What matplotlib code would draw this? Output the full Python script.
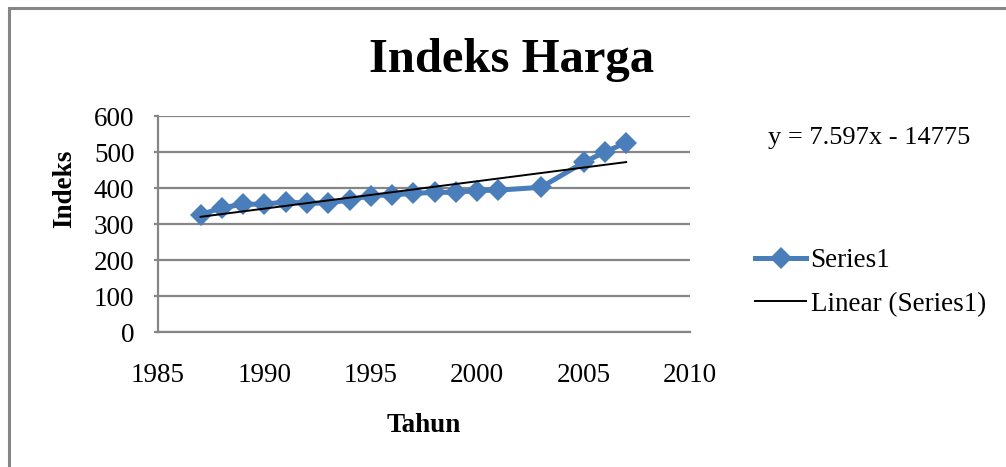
import matplotlib
matplotlib.use("Agg")
import matplotlib.pyplot as plt
import numpy as np
from matplotlib.patches import Rectangle

plt.rcParams['font.family'] = ['Liberation Serif', 'DejaVu Serif']

tahun = [1987, 1988, 1989, 1990, 1991, 1992, 1993, 1994, 1995, 1996,
         1997, 1998, 1999, 2000, 2001, 2003, 2005, 2006, 2007]
indeks = [326, 345, 355, 355, 361, 358, 358, 367, 379, 381,
          385, 388, 388, 393, 394, 402, 471, 500, 526]

x_ticks = [1985, 1990, 1995, 2000, 2005, 2010]
y_ticks = [0, 100, 200, 300, 400, 500, 600]

blue = '#4A7EBB'
grey = '#868686'

fig = plt.figure(figsize=(10.06, 4.67), dpi=100)
ax = fig.add_axes([158 / 1006, 1 - 332 / 467, 532 / 1006, 216 / 467])

# outer chart frame
fig.patches.append(Rectangle((9 / 1006, -0.1), 1.2, 1 - 8 / 467 + 0.1,
                             transform=fig.transFigure, fill=False,
                             edgecolor=grey, linewidth=2.2))

ax.plot(tahun, indeks, color=blue, linewidth=3.6, marker='D', markersize=11.5,
        markeredgewidth=0, label='Series1', zorder=3)

# linear trend
coef = np.polyfit(tahun, indeks, 1)
xt = np.array([tahun[0], tahun[-1]])
ax.plot(xt, np.polyval(coef, xt), color='black', linewidth=1.4,
        label='Linear (Series1)', zorder=4)

ax.set_xlim(1985, 2010)
ax.set_ylim(0, 600)
ax.set_xticks(x_ticks)
ax.set_yticks(y_ticks)
ax.yaxis.grid(True, color=grey, linewidth=1.6)
ax.set_axisbelow(True)
for s in ['top', 'right']:
    ax.spines[s].set_visible(False)
for s in ['left', 'bottom']:
    ax.spines[s].set_color(grey)
    ax.spines[s].set_linewidth(1.6)
ax.tick_params(axis='y', length=3, color=grey, width=1.6, pad=14, labelsize=19.5)
ax.tick_params(axis='x', length=0, pad=22, labelsize=19.5)

fig.text(512 / 1006, 1 - 60 / 467, 'Indeks Harga', ha='center', va='center',
         fontsize=35, fontweight='bold')
fig.text(65 / 1006, 1 - 189 / 467, 'Indeks', rotation=90, ha='center',
         va='center', fontsize=19.5, fontweight='bold')
fig.text(424 / 1006, 1 - 425 / 467, 'Tahun', ha='center', va='center',
         fontsize=19.5, fontweight='bold')
fig.text(869 / 1006, 1 - 138 / 467, 'y = 7.597x - 14775', ha='center',
         va='center', fontsize=19)

fig.legend(loc='upper left', bbox_to_anchor=(755 / 1006, 1 - 248 / 467),
           frameon=False, fontsize=19.5, handlelength=1.9, handletextpad=0.15,
           labelspacing=0.7, borderpad=0, borderaxespad=0)

fig.savefig('out.png', dpi=100)
